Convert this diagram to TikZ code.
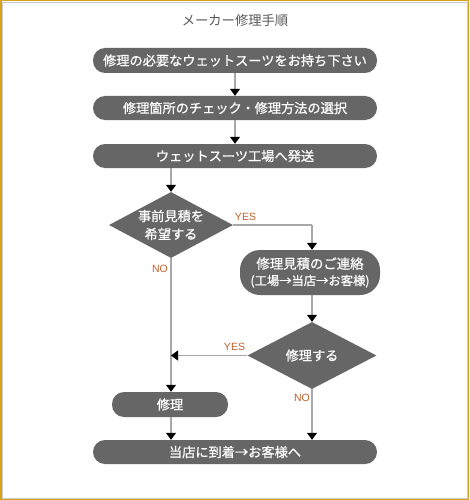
\documentclass[tikz,border=0pt]{standalone}
\usepackage{fontspec}
\setmainfont{Liberation Sans}
\newfontfamily\jp{Noto Sans CJK JP}
\newfontfamily\jpb{Noto Sans CJK JP}[FakeBold=0.7]
\usetikzlibrary{shapes.geometric,arrows.meta}
\definecolor{boxgray}{HTML}{666666}
\definecolor{linegray}{HTML}{A8A8A8}
\definecolor{labelor}{HTML}{C0602A}
\definecolor{gold}{HTML}{D9A21B}
\begin{document}
\begin{tikzpicture}[x=1pt,y=-1pt,
  stepbox/.style={fill=boxgray, text=white, font=\jpb\fontsize{13.2}{16}\selectfont,
     inner sep=0pt, minimum width=284pt, minimum height=24pt, rounded corners=12pt, align=center},
  dia/.style={diamond, fill=boxgray, inner sep=0pt},
  diatext/.style={text=white, font=\jpb\fontsize{13.2}{18}\selectfont, align=center, inner sep=0pt},
  conn/.style={draw=linegray, line width=1.1pt, -{Triangle[width=10pt,length=7pt,fill=black,color=black]}},
  plainconn/.style={draw=linegray, line width=1.1pt},
  lab/.style={text=labelor, font=\fontsize{10.5}{12}\selectfont, inner sep=0pt}]
\useasboundingbox (0,0) rectangle (469,500);
\fill[white] (0,0) rectangle (469,500);
\draw[gold, line width=1.5pt] (0.75,0.75) rectangle (468.25,499.25);
\draw[black!20, line width=0.6pt] (2,2) rectangle (467,497.8);
% title
\node[text=black!65, font=\jp\fontsize{13.3}{16}\selectfont, inner sep=0pt] (title) at (235,20) {メーカー修理手順};
% boxes
\node[stepbox, minimum height=25pt] (b1) at (235,60.5) {修理の必要なウェットスーツをお持ち下さい};
\node[stepbox] (b2) at (235,108) {修理箇所のチェック・修理方法の選択};
\node[stepbox] (b3) at (235,156) {ウェットスーツ工場へ発送};
\node[dia, minimum width=124pt, minimum height=66pt] (d1) at (171,225) {};
\node[diatext] (d1t) at (d1.center) {事前見積を\\希望する};
\node[stepbox, minimum width=140pt, minimum height=45pt, rounded corners=20pt,
      font=\jpb\fontsize{13.4}{16.5}\selectfont] (b4) at (310,272.5)
      {修理見積のご連絡\\{\fontsize{12.3}{14}\selectfont(工場→当店→お客様)}};
\node[dia, minimum width=129pt, minimum height=67pt] (d2) at (312,355.5) {};
\node[diatext] (d2t) at (d2.center) {修理する};
\node[stepbox, minimum width=116pt, minimum height=25pt] (m) at (170,404.5) {修理};
\node[stepbox] (b5) at (235,452) {当店に到着→お客様へ};
% connectors
\draw[conn] (b1) -- (b2);
\draw[conn] (b2) -- (b3);
\draw[conn] (d1.north |- b3.south) -- (d1.north);
\coordinate (c1) at (d1.east -| d2.north);
\draw[plainconn] (d1.east) -- (c1);
\draw[conn] (c1) -- (d2.north |- b4.north);
\draw[conn] (d2.north |- b4.south) -- (d2.north);
\draw[conn] (d1.south) -- (d1.south |- m.north);
\coordinate (c2) at (d1.south |- d2.west);
\draw[conn] (d2.west) -- (c2);
\draw[conn] (d1.south |- m.south) -- (d1.south |- b5.north);
\draw[conn] (d2.south) -- (d2.south |- b5.north);
% labels
\node[lab] (y1) at (245.5,217) {YES};
\node[lab] (n1) at (160,268.5) {NO};
\node[lab] (y2) at (234.5,347) {YES};
\node[lab] (n2) at (302,398) {NO};
\end{tikzpicture}
\end{document}
